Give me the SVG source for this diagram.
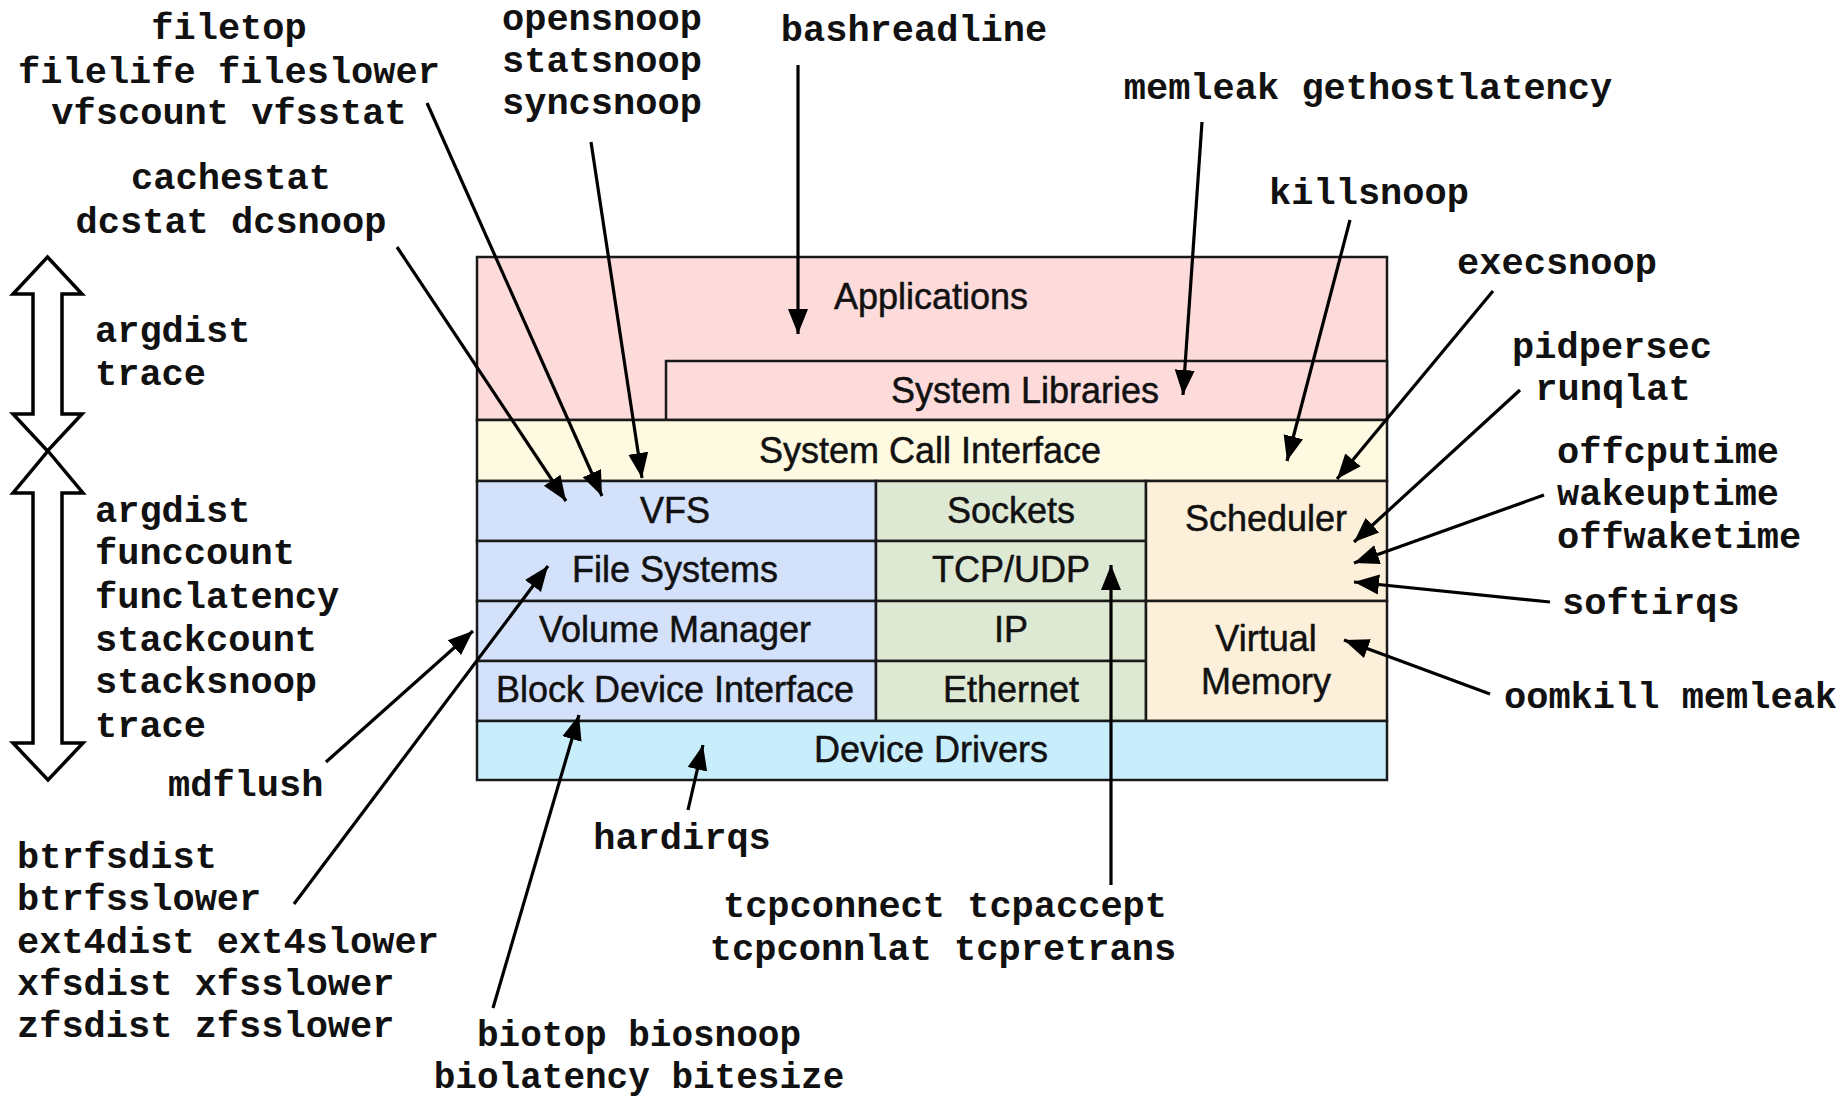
<svg xmlns="http://www.w3.org/2000/svg" width="1847" height="1098" viewBox="0 0 1847 1098">
<style>
.box{stroke:#1a1a1a;stroke-width:2.5}
.lbl{font-family:"Liberation Sans",Arial,Helvetica,sans-serif;font-size:36px;fill:#111;stroke:#111;stroke-width:0.5;text-anchor:middle}
.tool{font-family:"Liberation Mono","Courier New",monospace;font-weight:bold;font-size:37px;fill:#111}
.mid{text-anchor:middle}
.sm{font-size:36px}
.con{stroke:#000;stroke-width:3.2;fill:none}
.dbl{fill:#fff;stroke:#000;stroke-width:3.5;stroke-linejoin:miter}
</style>
<defs>
<marker id="ah" markerUnits="userSpaceOnUse" markerWidth="26" markerHeight="22" refX="25" refY="10" orient="auto" viewBox="0 0 26 20">
<path d="M0,0 L25,10 L0,20 z" fill="#000"/>
</marker>
</defs>
<rect width="1847" height="1098" fill="#fff"/>

<g id="applications"><rect class="box" x="477" y="257" width="910" height="163" fill="#fddbdb"/><text class="lbl" x="931" y="309">Applications</text></g>
<g id="system-libraries"><rect class="box" x="666" y="361" width="721" height="59" fill="#fddbdb"/><text class="lbl" x="1025" y="403">System Libraries</text></g>
<g id="system-call-interface"><rect class="box" x="477" y="420" width="910" height="61" fill="#fefae1"/><text class="lbl" x="930" y="463">System Call Interface</text></g>
<g id="vfs"><rect class="box" x="477" y="481" width="399" height="60" fill="#d4e1fa"/><text class="lbl" x="675" y="523">VFS</text></g>
<g id="file-systems"><rect class="box" x="477" y="541" width="399" height="60" fill="#d4e1fa"/><text class="lbl" x="675" y="582">File Systems</text></g>
<g id="volume-manager"><rect class="box" x="477" y="601" width="399" height="60" fill="#d4e1fa"/><text class="lbl" x="675" y="642">Volume Manager</text></g>
<g id="block-device-interface"><rect class="box" x="477" y="661" width="399" height="60" fill="#d4e1fa"/><text class="lbl" x="675" y="702">Block Device Interface</text></g>
<g id="sockets"><rect class="box" x="876" y="481" width="270" height="60" fill="#dee9d4"/><text class="lbl" x="1011" y="523">Sockets</text></g>
<g id="tcp-udp"><rect class="box" x="876" y="541" width="270" height="60" fill="#dee9d4"/><text class="lbl" x="1011" y="582">TCP/UDP</text></g>
<g id="ip"><rect class="box" x="876" y="601" width="270" height="60" fill="#dee9d4"/><text class="lbl" x="1011" y="642">IP</text></g>
<g id="ethernet"><rect class="box" x="876" y="661" width="270" height="60" fill="#dee9d4"/><text class="lbl" x="1011" y="702">Ethernet</text></g>
<g id="scheduler"><rect class="box" x="1146" y="481" width="241" height="120" fill="#fdf0da"/><text class="lbl" x="1266" y="531">Scheduler</text></g>
<g id="virtual-memory"><rect class="box" x="1146" y="601" width="241" height="120" fill="#fdf0da"/><text class="lbl" x="1266" y="651">Virtual</text><text class="lbl" x="1266" y="694">Memory</text></g>
<g id="device-drivers"><rect class="box" x="477" y="721" width="910" height="59" fill="#c8eefc"/><text class="lbl" x="931" y="762">Device Drivers</text></g>

<g id="scope-arrows">
<polygon class="dbl" points="47.5,257 82,294 62,294 62,414 82,414 47.5,451 13,414 33,414 33,294 13,294"/>
<polygon class="dbl" points="48,451 83,493 62,493 62,743 83,743 48,780 13,743 33,743 33,493 13,493"/>
</g>

<g id="tool-labels">
<text class="tool mid" x="229" y="39">filetop</text>
<text class="tool mid" x="229" y="83">filelife fileslower</text>
<text class="tool mid" x="229" y="124">vfscount vfsstat</text>
<text class="tool mid" x="231" y="189">cachestat</text>
<text class="tool mid" x="231" y="233">dcstat dcsnoop</text>
<text class="tool" x="502" y="30">opensnoop</text>
<text class="tool" x="502" y="72">statsnoop</text>
<text class="tool" x="502" y="114">syncsnoop</text>
<text class="tool mid" x="914" y="41">bashreadline</text>
<text class="tool mid" x="1368" y="99">memleak gethostlatency</text>
<text class="tool mid" x="1369" y="204">killsnoop</text>
<text class="tool mid" x="1557" y="274">execsnoop</text>
<text class="tool mid" x="1612" y="358">pidpersec</text>
<text class="tool mid" x="1613" y="400">runqlat</text>
<text class="tool" x="1557" y="463">offcputime</text>
<text class="tool" x="1557" y="505">wakeuptime</text>
<text class="tool" x="1557" y="548">offwaketime</text>
<text class="tool" x="1562" y="614">softirqs</text>
<text class="tool" x="1504" y="708">oomkill memleak</text>
<text class="tool" x="95" y="342">argdist</text>
<text class="tool" x="95" y="385">trace</text>
<text class="tool" x="95" y="522">argdist</text>
<text class="tool" x="95" y="564">funccount</text>
<text class="tool" x="95" y="608">funclatency</text>
<text class="tool" x="95" y="651">stackcount</text>
<text class="tool" x="95" y="693">stacksnoop</text>
<text class="tool" x="95" y="737">trace</text>
<text class="tool" x="168" y="796">mdflush</text>
<text class="tool" x="17" y="868">btrfsdist</text>
<text class="tool" x="17" y="910">btrfsslower</text>
<text class="tool" x="17" y="953">ext4dist ext4slower</text>
<text class="tool" x="17" y="995">xfsdist xfsslower</text>
<text class="tool" x="17" y="1037">zfsdist zfsslower</text>
<text class="tool mid" x="682" y="849">hardirqs</text>
<text class="tool mid" x="945" y="917">tcpconnect tcpaccept</text>
<text class="tool mid" x="943" y="960">tcpconnlat tcpretrans</text>
<text class="tool mid sm" x="639" y="1046">biotop biosnoop</text>
<text class="tool mid sm" x="639" y="1088">biolatency bitesize</text>
</g>

<g id="connectors">
<line class="con" marker-end="url(#ah)" x1="798" y1="65" x2="798" y2="334"/>
<line class="con" marker-end="url(#ah)" x1="591" y1="142" x2="642" y2="478"/>
<line class="con" marker-end="url(#ah)" x1="427" y1="103" x2="602" y2="496"/>
<line class="con" marker-end="url(#ah)" x1="397" y1="247" x2="566" y2="501"/>
<line class="con" marker-end="url(#ah)" x1="1202" y1="122" x2="1183" y2="395"/>
<line class="con" marker-end="url(#ah)" x1="1350" y1="220" x2="1287" y2="461"/>
<line class="con" marker-end="url(#ah)" x1="1493" y1="291" x2="1337" y2="479"/>
<line class="con" marker-end="url(#ah)" x1="1520" y1="390" x2="1354" y2="542"/>
<line class="con" marker-end="url(#ah)" x1="1544" y1="495" x2="1354" y2="563"/>
<line class="con" marker-end="url(#ah)" x1="1550" y1="602" x2="1354" y2="582"/>
<line class="con" marker-end="url(#ah)" x1="1490" y1="694" x2="1344" y2="640"/>
<line class="con" marker-end="url(#ah)" x1="1111" y1="885" x2="1111" y2="565"/>
<line class="con" marker-end="url(#ah)" x1="688" y1="810" x2="703" y2="745"/>
<line class="con" marker-end="url(#ah)" x1="493" y1="1008" x2="579" y2="715"/>
<line class="con" marker-end="url(#ah)" x1="294" y1="904" x2="548" y2="566"/>
<line class="con" marker-end="url(#ah)" x1="326" y1="762" x2="473" y2="631"/>
</g>
</svg>
